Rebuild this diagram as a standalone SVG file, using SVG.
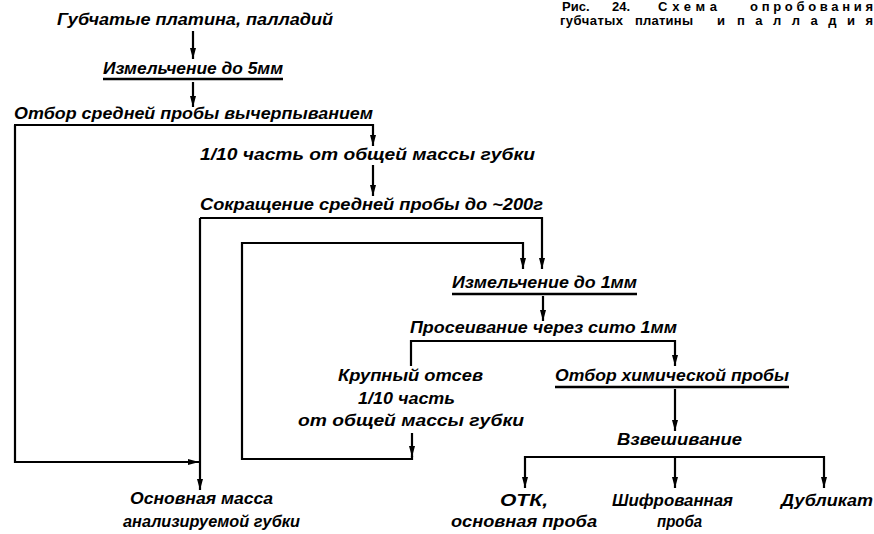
<svg xmlns="http://www.w3.org/2000/svg" width="874" height="534" viewBox="0 0 874 534">
<style>
.t{font-family:"Liberation Sans",Arial,sans-serif;font-size:16px;font-style:italic;font-weight:bold;fill:#000}
.cap{font-family:"Liberation Sans",Arial,sans-serif;font-size:13px;font-weight:bold;fill:#000}
.ln{fill:none;stroke:#000;stroke-width:2.2;stroke-linejoin:miter}
.ul{stroke:#000;stroke-width:2.6}
</style>
<defs>
<marker id="a" markerUnits="userSpaceOnUse" markerWidth="12" markerHeight="8" viewBox="0 0 12 8" refX="11" refY="4" orient="auto">
<path d="M0,1 L0,7 L11,4 Z" fill="#000"/>
</marker>
</defs>
<rect width="874" height="534" fill="#fff"/>

<g id="caption">
<text class="cap" x="562" y="11">Рис.</text>
<text class="cap" x="612" y="11">24.</text>
<text class="cap" x="658" y="11" textLength="59" lengthAdjust="spacing">Схема</text>
<text class="cap" x="750" y="11" textLength="123" lengthAdjust="spacing">опробования</text>
<text class="cap" x="560" y="25" textLength="63" lengthAdjust="spacing">губчатых</text>
<text class="cap" x="635" y="25" textLength="58" lengthAdjust="spacing">платины</text>
<text class="cap" x="717" y="25">и</text>
<text class="cap" x="737" y="25" textLength="136" lengthAdjust="spacing">палладия</text>
</g>

<g id="connectors">
<path class="ln" d="M193,31 V59" marker-end="url(#a)"/>
<path class="ln" d="M193,82 V107" marker-end="url(#a)"/>
<path class="ln" d="M14,125 H373 V146" marker-end="url(#a)"/>
<path class="ln" d="M15,125 V462 H199" marker-end="url(#a)"/>
<path class="ln" d="M373,165 V196" marker-end="url(#a)"/>
<path class="ln" d="M200,218 H542 V269" marker-end="url(#a)"/>
<path class="ln" d="M200,218 V490" marker-end="url(#a)"/>
<path class="ln" d="M412,433 V457" marker-end="url(#a)"/>
<path class="ln" d="M412,456 V459 H242 V243 H523 V269" marker-end="url(#a)"/>
<path class="ln" d="M543,296 V321" marker-end="url(#a)"/>
<path class="ln" d="M411,366 V341 H675 V366" marker-end="url(#a)"/>
<path class="ln" d="M675,389 V431" marker-end="url(#a)"/>
<path class="ln" d="M675,457 H525 V488" marker-end="url(#a)"/>
<path class="ln" d="M675,457 H824 V488" marker-end="url(#a)"/>
<path class="ln" d="M675,457 V488" marker-end="url(#a)"/>
</g>

<g id="n1"><text class="t" x="57" y="25" textLength="276" lengthAdjust="spacingAndGlyphs">Губчатые платина, палладий</text></g>
<g id="n2"><text class="t" x="103" y="74" textLength="180" lengthAdjust="spacingAndGlyphs">Измельчение до 5мм</text><line class="ul" x1="103" y1="79" x2="283" y2="79"/></g>
<g id="n3"><text class="t" x="14" y="119" textLength="359" lengthAdjust="spacingAndGlyphs">Отбор средней пробы вычерпыванием</text></g>
<g id="n4"><text class="t" x="200" y="160" textLength="335" lengthAdjust="spacingAndGlyphs">1/10 часть от общей массы губки</text></g>
<g id="n5"><text class="t" x="200" y="210" textLength="343" lengthAdjust="spacingAndGlyphs">Сокращение средней пробы до ~200г</text></g>
<g id="n6"><text class="t" x="452" y="288" textLength="185" lengthAdjust="spacingAndGlyphs">Измельчение до 1мм</text><line class="ul" x1="452" y1="294" x2="637" y2="294"/></g>
<g id="n7"><text class="t" x="410" y="333" textLength="267" lengthAdjust="spacingAndGlyphs">Просеивание через сито 1мм</text></g>
<g id="n8">
<text class="t" x="338" y="381" textLength="145" lengthAdjust="spacingAndGlyphs">Крупный отсев</text>
<text class="t" x="358" y="404" textLength="97" lengthAdjust="spacingAndGlyphs">1/10 часть</text>
<text class="t" x="298" y="426" textLength="226" lengthAdjust="spacingAndGlyphs">от общей массы губки</text>
</g>
<g id="n9"><text class="t" x="555" y="381" textLength="234" lengthAdjust="spacingAndGlyphs">Отбор химической пробы</text><line class="ul" x1="555" y1="387" x2="789" y2="387"/></g>
<g id="n10"><text class="t" x="617" y="445" textLength="125" lengthAdjust="spacingAndGlyphs">Взвешивание</text></g>
<g id="n11">
<text class="t" x="500" y="506" textLength="48" lengthAdjust="spacingAndGlyphs">ОТК,</text>
<text class="t" x="451" y="527" textLength="146" lengthAdjust="spacingAndGlyphs">основная проба</text>
</g>
<g id="n12">
<text class="t" x="612" y="506" textLength="121" lengthAdjust="spacingAndGlyphs">Шифрованная</text>
<text class="t" x="657" y="527" textLength="45" lengthAdjust="spacingAndGlyphs">проба</text>
</g>
<g id="n13"><text class="t" x="781" y="506" textLength="92" lengthAdjust="spacingAndGlyphs">Дубликат</text></g>
<g id="n14">
<text class="t" x="130" y="504" textLength="143" lengthAdjust="spacingAndGlyphs">Основная масса</text>
<text class="t" x="123" y="527" textLength="177" lengthAdjust="spacingAndGlyphs">анализируемой губки</text>
</g>
</svg>
